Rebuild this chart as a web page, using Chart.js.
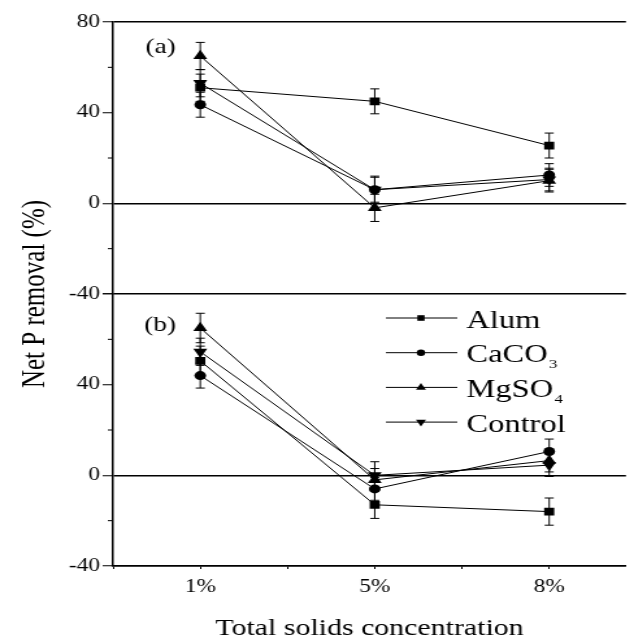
<!DOCTYPE html>
<html>
<head>
<meta charset="utf-8">
<script src="https://cdn.jsdelivr.net/npm/chart.js@4.4.1/dist/chart.umd.min.js"></script>
<style>
  html, body { margin: 0; padding: 0; background: #fff; }
  #wrap { width: 634px; height: 639px; overflow: hidden; }
  /* the original figure is stretched sideways, so the canvas is too */
  canvas { display: block; transform: scale(1.2992, 1); transform-origin: 0 0; }
</style>
</head>
<body>
<div id="wrap"><canvas id="chart" width="488" height="639"></canvas></div>
<script>
const categories = ['1%', '5%', '8%'];
const seriesNames = ['Alum', 'CaCO3', 'MgSO4', 'Control'];
const legendText = [['Alum', ''], ['CaCO', '3'], ['MgSO', '4'], ['Control', '']];

// panel (a)
const alumA = [51, 45, 25.5];
const caco3A = [43.5, 6, 12.5];
const mgso4A = [65, -2, 10];
const controlA = [53, 6, 10.5];
const alumAErr = [6, 5.5, 5.5];
const caco3AErr = [5.5, 5.5, 5];
const mgso4AErr = [6, 6, 5];
const controlAErr = [6, 6, 5];

// panel (b)
const alumB = [50.5, -13, -16];
const caco3B = [44, -6, 10.5];
const mgso4B = [65, -2, 6.5];
const controlB = [54.5, 0, 4.5];
const alumBErr = [6.5, 6, 6];
const caco3BErr = [5.5, 5, 5.5];
const mgso4BErr = [6.5, 5, 5];
const controlBErr = [6, 6, 5];

const yTicksShown = [80, 40, 0, -40];

const markers = [
  { style: 'rect', radius: 5.5, rotation: 0 },
  { style: 'circle', radius: 4.5, rotation: 0 },
  { style: 'triangle', radius: 6.2, rotation: 0 },
  { style: 'triangle', radius: 6.2, rotation: 180 },
];

const serif = '"Liberation Serif", "Times New Roman", serif';
Chart.defaults.font.family = serif;
Chart.defaults.color = '#000';

function makeSets(values, errors, axisId) {
  return values.map((vals, i) => ({
    label: seriesNames[i],
    data: vals.map((v, j) => ({ x: j + 1, y: v })),
    errors: errors[i],
    yAxisID: axisId,
    borderColor: '#000',
    backgroundColor: '#000',
    borderWidth: 1,
    pointStyle: markers[i].style,
    pointRadius: markers[i].radius,
    pointRotation: markers[i].rotation,
    pointBackgroundColor: '#000',
    pointBorderWidth: 0,
  }));
}

const datasets = [
  ...makeSets([alumA, caco3A, mgso4A, controlA], [alumAErr, caco3AErr, mgso4AErr, controlAErr], 'ya'),
  ...makeSets([alumB, caco3B, mgso4B, controlB], [alumBErr, caco3BErr, mgso4BErr, controlBErr], 'yb'),
];

const errorBars = {
  id: 'errorBars',
  beforeDatasetsDraw(chart) {
    const ctx = chart.ctx;
    const xs = chart.scales.x;
    ctx.save();
    ctx.strokeStyle = '#000';
    ctx.lineWidth = 1;
    chart.data.datasets.forEach(ds => {
      const ys = chart.scales[ds.yAxisID];
      ds.data.forEach((p, j) => {
        const x = xs.getPixelForValue(p.x);
        const top = ys.getPixelForValue(p.y + ds.errors[j]);
        const bot = ys.getPixelForValue(p.y - ds.errors[j]);
        ctx.beginPath();
        ctx.moveTo(x, top); ctx.lineTo(x, bot);
        ctx.moveTo(x - 3.5, top); ctx.lineTo(x + 3.5, top);
        ctx.moveTo(x - 3.5, bot); ctx.lineTo(x + 3.5, bot);
        ctx.stroke();
      });
    });
    ctx.restore();
  }
};

const extras = {
  id: 'extras',
  afterDraw(chart) {
    const ctx = chart.ctx;
    const area = chart.chartArea;
    ctx.save();
    ctx.strokeStyle = '#000';
    ctx.fillStyle = '#000';

    // short minor ticks on the y axes
    ctx.lineWidth = 1;
    ['ya', 'yb'].forEach(id => {
      const s = chart.scales[id];
      s.ticks.forEach(t => {
        if (t.value % 40 === 0) return;
        const y = s.getPixelForValue(t.value);
        ctx.beginPath();
        ctx.moveTo(area.left - 4, y);
        ctx.lineTo(area.left, y);
        ctx.stroke();
      });
    });

    // panel letters
    ctx.font = '21px ' + serif;
    ctx.textAlign = 'left';
    ctx.textBaseline = 'middle';
    ctx.fillText('(a)', area.left + 25, chart.scales.ya.top + 25);
    ctx.fillText('(b)', area.left + 24, chart.scales.yb.top + 31);

    // legend inside panel (b)
    const lx0 = 297, lx1 = 352, mx = 324, tx = 359;
    legendText.forEach((lab, i) => {
      const y = chart.scales.yb.top + 24 + i * 34.7;
      ctx.lineWidth = 1;
      ctx.beginPath();
      ctx.moveTo(lx0, y); ctx.lineTo(lx1, y);
      ctx.stroke();
      Chart.helpers.drawPoint(ctx, {
        pointStyle: markers[i].style,
        radius: markers[i].radius * 0.72,
        rotation: markers[i].rotation,
        borderWidth: 0
      }, mx, y);
      ctx.font = '25px ' + serif;
      ctx.textBaseline = 'middle';
      ctx.fillText(lab[0], tx, y + 3);
      if (lab[1]) {
        const w = ctx.measureText(lab[0]).width;
        ctx.font = '13px ' + serif;
        ctx.fillText(lab[1], tx + w + 1, y + 12);
      }
    });
    ctx.restore();
  }
};

function yAxis(shown) {
  return {
    type: 'linear',
    position: 'left',
    stack: 'panels',
    stackWeight: 1,
    min: -40,
    max: 80,
    ticks: {
      stepSize: 20,
      autoSkip: false,
      padding: 2,
      font: { size: 18 },
      color: '#000',
      callback: v => shown.includes(v) ? v : ''
    },
    grid: {
      color: c => (c.tick && [80, 0, -40].includes(c.tick.value) && shown.includes(c.tick.value)) ? '#000' : 'rgba(0,0,0,0)',
      lineWidth: 1.5,
      tickLength: 8,
      tickWidth: 1,
      tickColor: c => (c.tick && c.tick.value % 40 === 0) ? '#000' : 'rgba(0,0,0,0)'
    },
    border: { color: '#000', width: 1.5 },
    afterFit: s => { s.width = 45; }
  };
}

const xTickValues = [];
for (let v = 0.5; v <= categories.length; v += 0.5) xTickValues.push(v);

new Chart(document.getElementById('chart'), {
  type: 'line',
  data: { datasets },
  options: {
    responsive: false,
    animation: false,
    layout: { padding: { top: 22, right: 0, bottom: 0, left: 0 } },
    scales: {
      x: {
        type: 'linear',
        min: 0.5,
        max: 3.44,
        afterBuildTicks: s => { s.ticks = xTickValues.map(v => ({ value: v })); },
        ticks: {
          autoSkip: false,
          maxRotation: 0,
          padding: 7,
          font: { size: 18 },
          color: '#000',
          callback: v => Number.isInteger(v) ? categories[v - 1] : ''
        },
        grid: { drawOnChartArea: false, tickLength: 3, tickColor: '#000', tickWidth: 1 },
        border: { color: '#000', width: 1.5 },
        title: {
          display: true,
          text: 'Total solids concentration',
          font: { size: 23 },
          color: '#000',
          padding: { top: 0, bottom: -4 }
        },
        afterFit: s => { s.height = 73; }
      },
      // in a stack the axis listed last is placed on top
      yb: yAxis(yTicksShown.filter(v => v !== 80)),
      ya: yAxis(yTicksShown),
    },
    plugins: {
      legend: { display: false },
      tooltip: { enabled: false },
      title: {
        display: true,
        position: 'left',
        fullSize: false,
        text: 'Net P removal (%)',
        font: { size: 25, weight: 'normal' },
        color: '#000',
        padding: { top: 12, bottom: 0 }
      }
    }
  },
  plugins: [errorBars, extras]
});
</script>
</body>
</html>
